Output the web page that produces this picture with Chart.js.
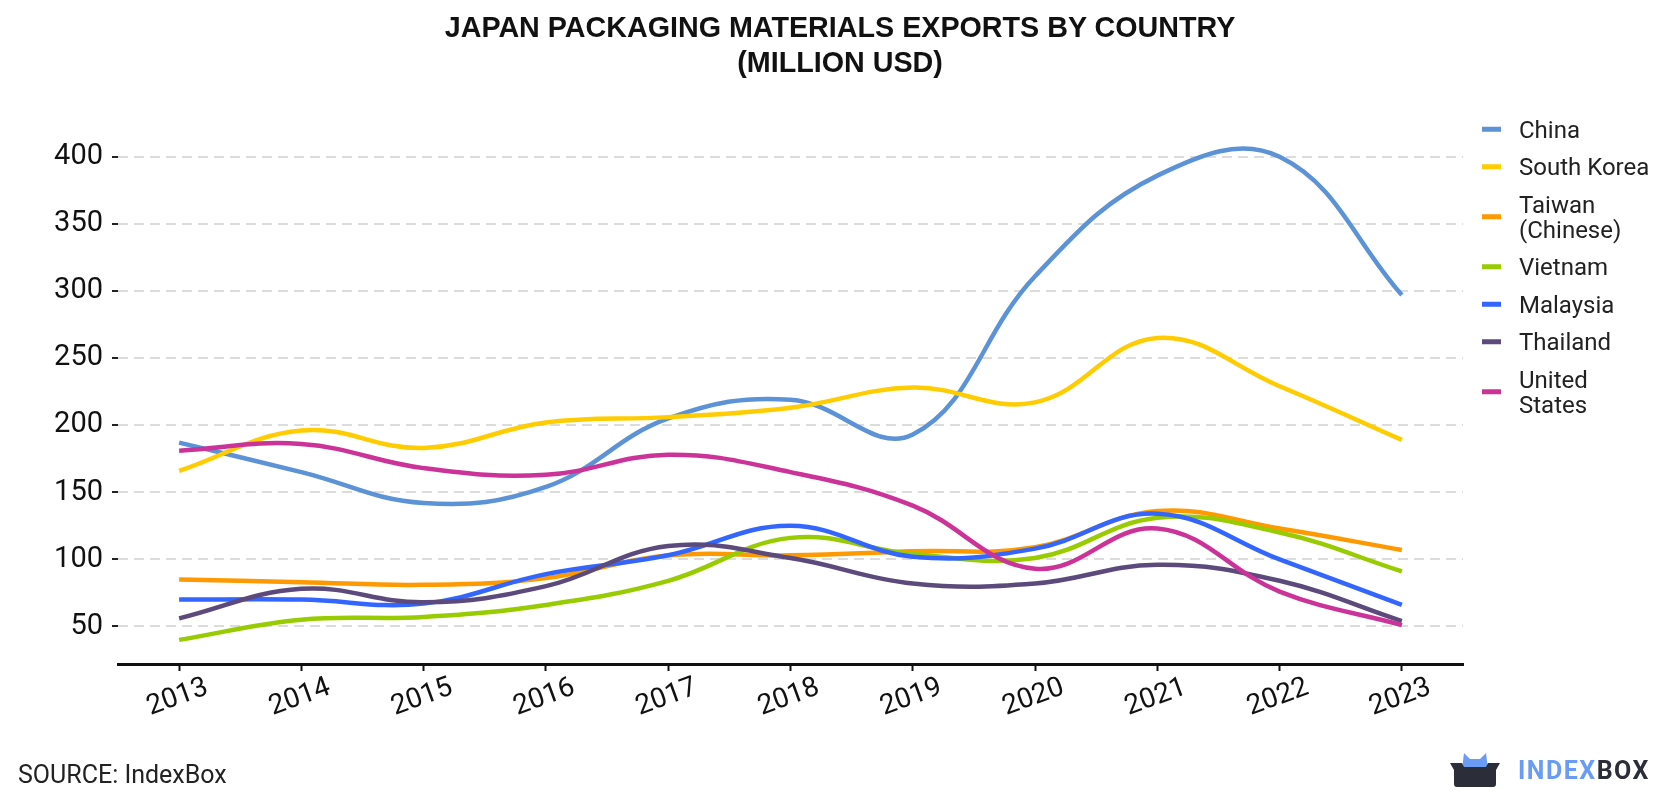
<!DOCTYPE html>
<html>
<head>
<meta charset="utf-8">
<title>Japan Packaging Materials Exports by Country</title>
<script src="https://cdn.jsdelivr.net/npm/chart.js"></script>
<style>
  body { margin: 0; background: #fff; }
  .wrap { position: relative; width: 1680px; height: 800px; }
  .title {
    position: absolute; top: 10px; left: 0; width: 1680px;
    text-align: center; color: #111;
    font: bold 28.7px/35px "Liberation Sans", Arial, sans-serif;
  }
  .source {
    position: absolute; left: 18px; top: 760px;
    font: 25px Roboto, sans-serif; color: #222;
  }
  .logo { position: absolute; left: 1450px; top: 753px; display: flex; align-items: center; }
  .logo .txt { font: bold 25px Roboto, sans-serif; letter-spacing: 1.5px; margin-left: 18px; }
  .logo .a { color: #6a9cf5; }
  .logo .b { color: #2b2d38; }
</style>
</head>
<body>
<div class="wrap">
  <canvas id="myChart" width="1680" height="800"></canvas>
  <div class="title">JAPAN PACKAGING MATERIALS EXPORTS BY COUNTRY<br>(MILLION USD)</div>
  <div class="source">SOURCE: IndexBox</div>
  <div class="logo">
    <svg width="50" height="35" viewBox="0 0 50 35">
      <path d="M12,16 L14,0 L20,6 L30,6 L36,0 L38,16 Z" fill="#6a9cf5"/>
      <path d="M0,10 L12,10 L14,14 L36,14 L38,10 L50,10 L46,17 L46,31 Q46,34 43,34 L7,34 Q4,34 4,31 L4,17 Z" fill="#2b2d38"/>
    </svg>
    <span class="txt"><span class="a">INDEX</span><span class="b">BOX</span></span>
  </div>
</div>

<script>
const years = ['2013', '2014', '2015', '2016', '2017', '2018', '2019', '2020', '2021', '2022', '2023']

const china        = [187, 165, 142, 154, 205, 219, 193, 311, 386, 400, 297]
const southKorea   = [166, 196, 183, 202, 206, 213, 228, 217, 265, 229, 189]
const taiwan       = [85, 83, 81, 86, 103, 103, 106, 109, 136, 123, 107]
const vietnam      = [40, 55, 57, 66, 84, 116, 104, 101, 131, 120, 91]
const malaysia     = [70, 70, 67, 89, 103, 125, 102, 108, 134, 100, 66]
const thailand     = [56, 78, 68, 80, 110, 101, 82, 82, 96, 84, 54]
const unitedStates = [181, 186, 168, 163, 178, 165, 140, 93, 123, 76, 51]

const countries = ['China', 'South Korea', 'Taiwan (Chinese)', 'Vietnam', 'Malaysia', 'Thailand', 'United States']
const series = [china, southKorea, taiwan, vietnam, malaysia, thailand, unitedStates]
const colors = ['#5b93d6', '#ffcc00', '#ff9900', '#99cc00', '#3366ff', '#5c4a7d', '#cc3399']

const yTicks = [50, 100, 150, 200, 250, 300, 350, 400]

// split a legend label so it fits the side column
function wrapText(ctx, text, maxWidth) {
  const words = text.split(' ')
  let lines = []
  let line = ''
  words.forEach((w) => {
    const test = line ? line + ' ' + w : w
    if (line && ctx.measureText(test).width > maxWidth) {
      lines.push(line)
      line = w
    } else {
      line = test
    }
  })
  lines.push(line)
  return lines
}

const sideLegend = {
  id: 'sideLegend',
  afterDraw(chart) {
    const ctx = chart.ctx
    ctx.save()
    ctx.font = '24px Roboto'
    ctx.textBaseline = 'middle'
    let y = 110
    chart.data.datasets.forEach((ds) => {
      const lines = wrapText(ctx, ds.label, 140)
      const h = 37.5 + (lines.length - 1) * 25
      const cy = y + h / 2
      ctx.fillStyle = ds.borderColor
      ctx.fillRect(1482, cy - 2, 19, 5)
      ctx.fillStyle = '#222'
      lines.forEach((l, i) => {
        ctx.fillText(l, 1519, cy - (lines.length - 1) * 12.5 + i * 25 + 3)
      })
      y += h
    })
    ctx.restore()
  }
}

Chart.defaults.font.family = 'Roboto, sans-serif'

const ctx = document.getElementById('myChart')
const myChart = new Chart(ctx, {
  type: 'line',
  data: {
    labels: years,
    datasets: series.map((values, i) => ({
      label: countries[i],
      data: values,
      borderColor: colors[i],
      backgroundColor: colors[i],
      borderWidth: 4.5,
      pointRadius: 0,
      tension: 0.4,
      fill: false,
      order: series.length - i,
    }))
  },
  options: {
    responsive: false,
    animation: false,
    devicePixelRatio: 1,
    layout: {
      padding: { top: 130, right: 217, left: 0, bottom: 0 }
    },
    plugins: {
      legend: { display: false },
      title: { display: false },
      tooltip: { enabled: false },
    },
    scales: {
      x: {
        offset: true,
        afterFit: (scale) => { scale.height = 136 },
        border: { display: true, color: '#111', width: 3 },
        grid: {
          display: true,
          drawOnChartArea: false,
          drawTicks: true,
          offset: false,
          tickLength: 7,
          tickWidth: 2,
          tickColor: '#111',
        },
        ticks: {
          autoSkip: false,
          minRotation: 20,
          maxRotation: 20,
          padding: 0,
          labelOffset: 28,
          color: '#111',
          font: { size: 28 },
        }
      },
      y: {
        min: 22,
        max: 420,
        afterFit: (scale) => { scale.width = 118 },
        afterBuildTicks: (scale) => { scale.ticks = yTicks.map((v) => ({ value: v })) },
        border: { display: false, dash: [10, 6] },
        grid: {
          color: '#dcdcdc',
          lineWidth: 2,
          drawTicks: true,
          tickLength: 6,
          tickWidth: 2,
          tickColor: '#222',
          tickBorderDash: [],
        },
        ticks: {
          padding: 9,
          color: '#111',
          font: { size: 29 },
        }
      }
    }
  },
  plugins: [sideLegend]
})
</script>
</body>
</html>
